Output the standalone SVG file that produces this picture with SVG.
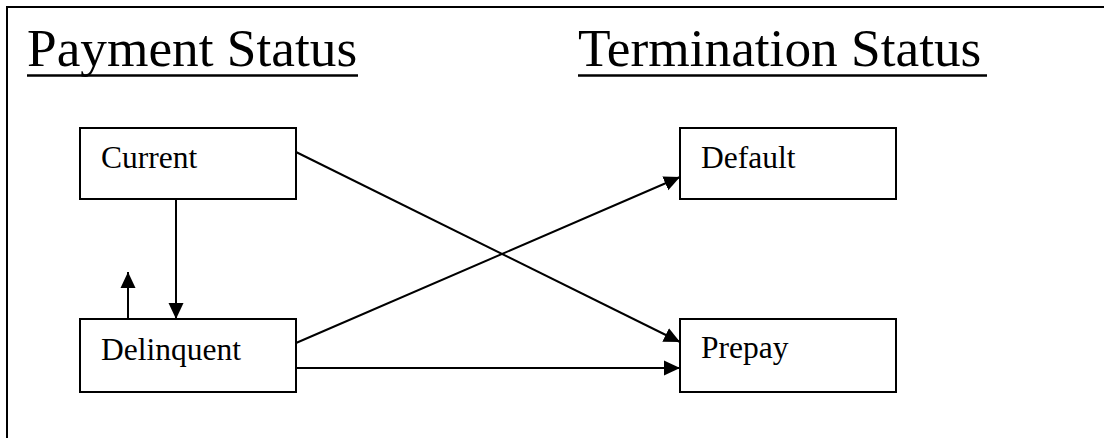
<svg xmlns="http://www.w3.org/2000/svg" width="1104" height="438" viewBox="0 0 1104 438">
  <style>
    .title { font-family: "Liberation Serif", "Times New Roman", serif; font-size: 53.3px; fill: #000; }
    .label { font-family: "Liberation Serif", "Times New Roman", serif; font-size: 31.5px; fill: #000; }
    .box { fill: #fff; stroke: #000; stroke-width: 2; }
    .edge { stroke: #000; stroke-width: 2; fill: none; }
    .frame { stroke: #000; stroke-width: 2; fill: none; }
    .ul { stroke: #000; stroke-width: 2.5; }
  </style>
  <defs>
    <marker id="arrow" markerUnits="userSpaceOnUse" markerWidth="16" markerHeight="16" refX="16" refY="8" orient="auto">
      <path d="M0,0.5 L16,8 L0,15.5 z" fill="#000"/>
    </marker>
  </defs>
  <rect width="1104" height="438" fill="#fff"/>
  <path class="frame" d="M7,438 V7 H1104"/>

  <g id="title-payment">
    <text class="title" x="27" y="66">Payment Status</text>
    <line class="ul" x1="27" y1="75.5" x2="358" y2="75.5"/>
  </g>
  <g id="title-termination">
    <text class="title" x="578" y="66">Termination Status</text>
    <line class="ul" x1="578" y1="75.5" x2="987" y2="75.5"/>
  </g>

  <g id="connectors">
    <line class="edge" x1="176" y1="199" x2="176" y2="319" marker-end="url(#arrow)"/>
    <line class="edge" x1="128" y1="319" x2="128" y2="272" marker-end="url(#arrow)"/>
    <line class="edge" x1="296" y1="152" x2="680" y2="342" marker-end="url(#arrow)"/>
    <line class="edge" x1="296" y1="343" x2="680" y2="177" marker-end="url(#arrow)"/>
    <line class="edge" x1="296" y1="368" x2="680" y2="368" marker-end="url(#arrow)"/>
  </g>

  <g id="node-current">
    <rect class="box" x="80" y="128" width="216" height="71"/>
    <text class="label" x="101" y="168">Current</text>
  </g>
  <g id="node-delinquent">
    <rect class="box" x="80" y="319" width="216" height="73"/>
    <text class="label" x="101" y="360">Delinquent</text>
  </g>
  <g id="node-default">
    <rect class="box" x="680" y="128" width="216" height="71"/>
    <text class="label" x="701" y="168">Default</text>
  </g>
  <g id="node-prepay">
    <rect class="box" x="680" y="319" width="216" height="73"/>
    <text class="label" x="701" y="358">Prepay</text>
  </g>
</svg>
